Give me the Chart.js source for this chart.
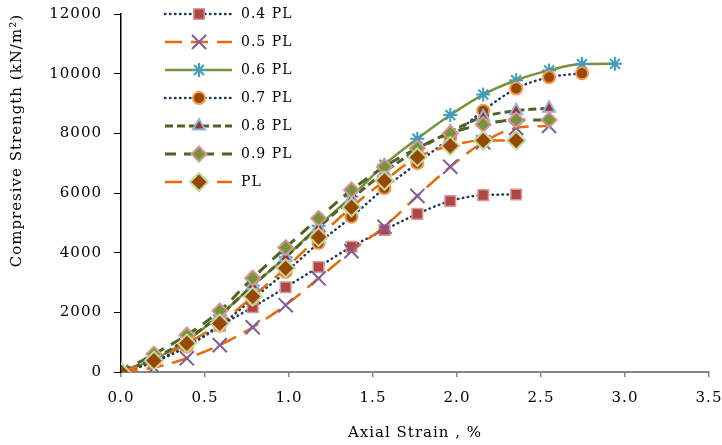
<!doctype html>
<html lang="en">
  <head>
    <meta charset="UTF-8" />
    <title>Compressive Strength vs Axial Strain</title>
    <script src="https://cdn.jsdelivr.net/npm/chart.js@4.4.0/dist/chart.umd.min.js"></script>
    <style>
      html, body { margin: 0; padding: 0; background: #fff; }
      #wrap { width: 722px; height: 445px; position: relative; }
    </style>
  </head>
  <body>
    <div id="wrap"><canvas id="strengthChart"></canvas></div>
    <script>
// axial strain (%) at each reading
const strain = [0, 0.196, 0.392, 0.588, 0.784, 0.98, 1.176, 1.372, 1.568, 1.764, 1.96, 2.156, 2.352, 2.548, 2.744, 2.94];

// compressive strength (kN/m2) per load level
const pl04 = [0, 350, 900, 1550, 2170, 2840, 3520, 4200, 4760, 5300, 5730, 5930, 5950];
const pl05 = [0, 150, 460, 900, 1500, 2240, 3140, 4050, 4870, 5900, 6880, 7700, 8180, 8250];
const pl06 = [0, 420, 1050, 1900, 2900, 3850, 4900, 5880, 6950, 7820, 8615, 9300, 9780, 10110, 10320, 10330];
const pl07 = [0, 330, 850, 1550, 2450, 3350, 4320, 5200, 6160, 7000, 7850, 8760, 9500, 9880, 10010];
const pl08 = [0, 450, 1100, 1900, 2900, 3850, 4850, 5800, 6700, 7450, 8050, 8550, 8760, 8840];
const pl09 = [0, 600, 1240, 2050, 3150, 4170, 5150, 6100, 6880, 7500, 8000, 8300, 8450, 8450];
const pl10 = [0, 380, 960, 1630, 2530, 3480, 4520, 5520, 6410, 7200, 7580, 7760, 7760];

const xTicks = [0, 0.5, 1, 1.5, 2, 2.5, 3, 3.5];
const yTicks = [0, 2000, 4000, 6000, 8000, 10000, 12000];

const FONT = '"DejaVu Serif", serif';
const SPACING = '1px';

function pairs(values) {
    return values.map((v, i) => ({ x: strain[i], y: v }));
}

const navy = '#1F3A60';
const orange = '#E46C0A';
const olive = '#4F6228';

const datasets = [
    { label: '0.4 PL', data: pairs(pl04), borderColor: navy, borderWidth: 2.5, borderDash: [0.5, 4.5], borderCapStyle: 'round',
      pointStyle: 'rect', pointRadius: 7.5, pointBackgroundColor: '#AE4744', pointBorderColor: '#D99694', pointBorderWidth: 1.5 },
    { label: '0.5 PL', data: pairs(pl05), borderColor: orange, borderWidth: 2.5, borderDash: [17, 9],
      pointStyle: 'crossRot', pointRadius: 10, pointBackgroundColor: '#7B5EA0', pointBorderColor: '#7B5EA0', pointBorderWidth: 2 },
    { label: '0.6 PL', data: pairs(pl06), borderColor: '#77933C', borderWidth: 2.5,
      pointStyle: 'star', pointRadius: 7, pointBackgroundColor: '#4BACC6', pointBorderColor: '#3F9FBA', pointBorderWidth: 2 },
    { label: '0.7 PL', data: pairs(pl07), borderColor: navy, borderWidth: 2.5, borderDash: [0.5, 4.5], borderCapStyle: 'round',
      pointStyle: 'circle', pointRadius: 6, pointBackgroundColor: '#974706', pointBorderColor: '#F79646', pointBorderWidth: 2 },
    { label: '0.8 PL', data: pairs(pl08), borderColor: olive, borderWidth: 3, borderDash: [8, 4],
      pointStyle: 'triangle', pointRadius: 7, pointBackgroundColor: '#953735', pointBorderColor: '#95B3D7', pointBorderWidth: 2 },
    { label: '0.9 PL', data: pairs(pl09), borderColor: olive, borderWidth: 3, borderDash: [11, 8],
      pointStyle: 'rectRot', pointRadius: 7.5, pointBackgroundColor: '#77933C', pointBorderColor: '#D99694', pointBorderWidth: 2 },
    { label: 'PL', data: pairs(pl10), borderColor: orange, borderWidth: 2.5, borderDash: [17, 9],
      pointStyle: 'rectRot', pointRadius: 9, pointBackgroundColor: '#974806', pointBorderColor: '#C3D69B', pointBorderWidth: 2 }
];

// later series sit on top
datasets.forEach((ds, i) => {
    ds.order = datasets.length - i;
    ds.fill = false;
    ds.cubicInterpolationMode = 'monotone';
    ds.pointHoverRadius = ds.pointRadius;
});

// wider text tracking for every label the chart draws or measures
const letterSpacing = {
    id: 'letterSpacing',
    beforeInit(chart) { chart.ctx.letterSpacing = SPACING; },
    beforeLayout(chart) { chart.ctx.letterSpacing = SPACING; },
    beforeDraw(chart) { chart.ctx.letterSpacing = SPACING; }
};

// legend drawn inside the plot, top-left
const insideLegend = {
    id: 'insideLegend',
    afterDraw(chart) {
        const ctx = chart.ctx;
        const x0 = 165, x1 = 232, mx = 199, tx = 241;
        chart.data.datasets.forEach((ds, i) => {
            const y = 14 + i * 28;
            ctx.save();
            ctx.beginPath();
            ctx.setLineDash(ds.borderDash || []);
            ctx.lineCap = ds.borderCapStyle || 'butt';
            ctx.lineWidth = ds.borderWidth;
            ctx.strokeStyle = ds.borderColor;
            ctx.moveTo(x0, y);
            ctx.lineTo(x1, y);
            ctx.stroke();
            ctx.setLineDash([]);
            ctx.lineCap = 'butt';
            ctx.fillStyle = ds.pointBackgroundColor;
            ctx.strokeStyle = ds.pointBorderColor;
            ctx.lineWidth = ds.pointBorderWidth;
            Chart.helpers.drawPoint(ctx, {
                pointStyle: ds.pointStyle, rotation: 0,
                radius: ds.pointRadius, borderWidth: ds.pointBorderWidth
            }, mx, y);
            ctx.fillStyle = '#000';
            ctx.font = '14px ' + FONT;
            ctx.letterSpacing = SPACING;
            ctx.textBaseline = 'middle';
            ctx.textAlign = 'left';
            ctx.fillText(ds.label, tx, y);
            ctx.restore();
        });
    }
};

const ctx = document.getElementById('strengthChart').getContext('2d');
const strengthChart = new Chart(ctx, {
    type: 'line',
    data: { datasets: datasets },
    plugins: [letterSpacing, insideLegend],
    options: {
        responsive: true,
        maintainAspectRatio: false,
        animation: false,
        layout: { padding: { top: 14, right: 13, bottom: 0, left: 0 } },
        plugins: {
            legend: { display: false },
            tooltip: { enabled: false }
        },
        scales: {
            x: {
                type: 'linear',
                min: 0,
                max: 3.5,
                afterFit: (scale) => {
                    scale.height = 73;
                    scale.paddingLeft = 0;
                    scale.paddingRight = 0;
                },
                afterBuildTicks: (scale) => { scale.ticks = xTicks.map(v => ({ value: v })); },
                grid: { drawOnChartArea: false, drawTicks: true, tickLength: 5, color: '#868686', lineWidth: 1.5 },
                border: { display: true, color: '#868686', width: 2 },
                ticks: {
                    color: '#000',
                    padding: 12,
                    maxRotation: 0,
                    font: { family: FONT, size: 15 },
                    callback: (v) => Number(v).toFixed(1)
                },
                title: {
                    display: true,
                    text: 'Axial Strain , %',
                    color: '#000',
                    font: { family: FONT, size: 15 },
                    padding: { top: 0, bottom: 3 }
                }
            },
            y: {
                min: 0,
                max: 12000,
                afterFit: (scale) => {
                    scale.width = 121;
                    scale.paddingTop = 0;
                    scale.paddingBottom = 0;
                },
                afterBuildTicks: (scale) => { scale.ticks = yTicks.map(v => ({ value: v })); },
                grid: { drawOnChartArea: false, drawTicks: true, tickLength: 7, color: '#000', lineWidth: 1 },
                border: { display: true, color: '#000', width: 1.5 },
                ticks: {
                    color: '#000',
                    padding: 12,
                    font: { family: FONT, size: 15 },
                    callback: (v) => String(v)
                },
                title: {
                    display: true,
                    text: 'Compresive Strength (kN/m²)',
                    align: 'end',
                    color: '#000',
                    font: { family: FONT, size: 15 },
                    padding: { top: 8, bottom: 0 }
                }
            }
        }
    }
});
    </script>
  </body>
</html>
